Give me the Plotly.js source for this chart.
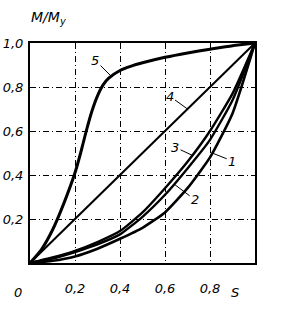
<!DOCTYPE html>
<html>
<head>
<meta charset="utf-8">
<script src="https://cdn.plot.ly/plotly-3.0.1.min.js"></script>
<style>html,body{margin:0;padding:0;background:#fff;}#chart{width:294px;height:313px;}</style>
</head>
<body>
<div id="chart"></div>
<script>
// Data
const sGrid = [0, 0.1, 0.2, 0.3, 0.4, 0.5, 0.6, 0.7, 0.8, 0.9, 1.0];
const curve3 = [0, 0.025, 0.055, 0.095, 0.145, 0.23, 0.34, 0.46, 0.60, 0.77, 1.0];
const curve2 = [0, 0.02, 0.05, 0.085, 0.13, 0.21, 0.31, 0.43, 0.56, 0.74, 1.0];
const curve1 = [0, 0.01, 0.03, 0.065, 0.11, 0.16, 0.23, 0.34, 0.48, 0.68, 1.0];
const line4S = [0, 1];
const line4M = [0, 1];
const curve5S = [0, 0.05, 0.1, 0.15, 0.2, 0.225, 0.25, 0.275, 0.3, 0.325, 0.35, 0.4, 0.45, 0.5, 0.6, 0.7, 0.8, 0.9, 1.0];
const curve5M = [0, 0.06, 0.15, 0.27, 0.41, 0.5, 0.6, 0.69, 0.76, 0.81, 0.84, 0.875, 0.895, 0.91, 0.935, 0.955, 0.972, 0.988, 1.0];

const yTickVals = [0.2, 0.4, 0.6, 0.8, 1.0];
const yTickText = ["0,2", "0,4", "0,6", "0,8", "1,0"];
const xTickVals = [0.2, 0.4, 0.6, 0.8];
const xTickText = ["0,2", "0,4", "0,6", "0,8"];

// curve labels: [label, s, M at leader tip]
const curveLabels = ["5", "4", "3", "2", "1"];
const labelTipS = [0.36, 0.70, 0.72, 0.645, 0.81];
const labelTipM = [0.85, 0.70, 0.49, 0.355, 0.50];
const labelAx = [-16, -18, -17, 20, 20];
const labelAy = [-16, -13, -8, 15, 8];

const FONT = "DejaVu Sans, sans-serif";
const lineStyle = w => ({color: "#000", width: w, shape: "spline", smoothing: 0.5});

const traces = [
  {x: sGrid, y: curve1, mode: "lines", line: lineStyle(2.6), hoverinfo: "skip"},
  {x: sGrid, y: curve2, mode: "lines", line: lineStyle(2.4), hoverinfo: "skip"},
  {x: sGrid, y: curve3, mode: "lines", line: lineStyle(2.4), hoverinfo: "skip"},
  {x: line4S, y: line4M, mode: "lines", line: {color: "#000", width: 2}, hoverinfo: "skip"},
  {x: curve5S, y: curve5M, mode: "lines", line: lineStyle(3), hoverinfo: "skip"}
];

const annotations = curveLabels.map((t, i) => ({
  x: labelTipS[i], y: labelTipM[i], xref: "x", yref: "y",
  text: t, showarrow: true, arrowhead: 0, arrowwidth: 1, arrowcolor: "#000",
  ax: labelAx[i], ay: labelAy[i], standoff: 0,
  font: {family: FONT, size: 13, color: "#000", style: "italic"}
}));
annotations.push({x: 0, y: 0, xref: "x", yref: "y", text: "0", showarrow: false,
  xshift: -12, yshift: -29, font: {family: FONT, size: 13, color: "#000", style: "italic"}});
annotations.push({x: 0.91, y: 0, xref: "x", yref: "y", text: "S", showarrow: false,
  yshift: -29, font: {family: FONT, size: 13, color: "#000", style: "italic"}});
annotations.push({x: 0.08, y: 1.0, xref: "x", yref: "y", text: "M/M<sub>y</sub>", showarrow: false,
  yshift: 25, font: {family: FONT, size: 14, color: "#000", style: "italic"}});

const gridStyle = {showgrid: true, gridcolor: "#000", gridwidth: 1, griddash: "6px,3px,1px,3px"};

const layout = {
  width: 294, height: 313,
  margin: {l: 30, r: 39, t: 43, b: 50},
  paper_bgcolor: "#fff", plot_bgcolor: "#fff",
  showlegend: false,
  xaxis: Object.assign({range: [0, 1], tickvals: xTickVals, ticktext: xTickText, ticks: "",
    showline: true, linecolor: "#000", linewidth: 2, mirror: true, zeroline: false,
    tickfont: {family: FONT, size: 13, color: "#000", style: "italic"}, ticklabelstandoff: 12}, gridStyle),
  yaxis: Object.assign({range: [0, 1], tickvals: yTickVals, ticktext: yTickText, ticks: "",
    showline: true, linecolor: "#000", linewidth: 2, mirror: true, zeroline: false,
    tickfont: {family: FONT, size: 13, color: "#000", style: "italic"}, ticklabelstandoff: 2}, gridStyle),
  annotations: annotations
};

Plotly.newPlot("chart", traces, layout, {staticPlot: true, displayModeBar: false});
</script>
</body>
</html>
